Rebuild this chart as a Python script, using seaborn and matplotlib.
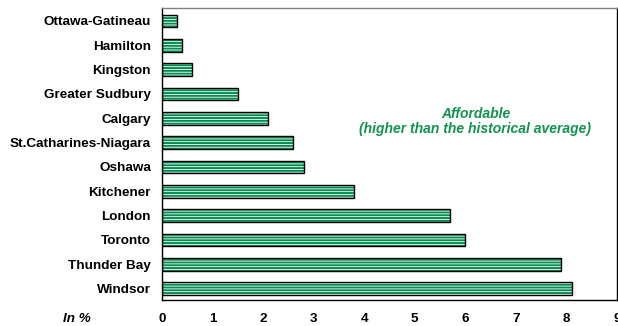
import matplotlib
matplotlib.use("Agg")
import matplotlib.pyplot as plt
import seaborn as sns
import pandas as pd

cities = ["Ottawa-Gatineau", "Hamilton", "Kingston", "Greater Sudbury", "Calgary",
          "St.Catharines-Niagara", "Oshawa", "Kitchener", "London", "Toronto",
          "Thunder Bay", "Windsor"]
values = [0.3, 0.4, 0.6, 1.5, 2.1, 2.6, 2.8, 3.8, 5.7, 6.0, 7.9, 8.1]
x_ticks = list(range(0, 10))

GREEN = "#008c50"
TEXT_GREEN = "#12944f"
FS = 9.7

sns.set_style("white")
plt.rcParams["font.family"] = ["Liberation Sans", "DejaVu Sans"]
plt.rcParams["hatch.linewidth"] = 1.4
plt.rcParams["text.color"] = "black"
plt.rcParams["xtick.color"] = "black"
plt.rcParams["ytick.color"] = "black"

df = pd.DataFrame({"city": cities, "value": values})

fig = plt.figure(figsize=(6.18, 3.26), dpi=100)
ax = fig.add_axes([162 / 618, 1 - 300 / 326, (617 - 162) / 618, (300 - 8) / 326])

# striped fill
sns.barplot(data=df, x="value", y="city", orient="h", ax=ax, color="white",
            edgecolor=GREEN, linewidth=0, width=0.52, errorbar=None,
            hatch="------", saturation=1)
# black outlines on top
sns.barplot(data=df, x="value", y="city", orient="h", ax=ax, fill=False,
            color="black", linewidth=1.0, width=0.52, errorbar=None)

ax.set_xlim(0, 9)
ax.set_ylim(11.47, -0.53)
ax.set_xticks(x_ticks)
ax.set_xticklabels([str(t) for t in x_ticks], fontsize=FS, fontweight="bold")
ax.set_yticks(range(len(cities)))
ax.set_yticklabels(cities, fontsize=FS, fontweight="bold")
ax.tick_params(axis="x", length=0, pad=9)
ax.tick_params(axis="y", length=0, pad=8)
ax.set_xlabel("")
ax.set_ylabel("")

for side in ["left", "bottom", "right"]:
    ax.spines[side].set_color("black")
    ax.spines[side].set_linewidth(1.0)
ax.spines["top"].set_color("#808080")
ax.spines["top"].set_linewidth(1.0)

ax.text(6.2, 4.14, "Affordable\n(higher than the historical average)",
        ha="center", va="center", color=TEXT_GREEN, fontsize=10,
        fontweight="bold", fontstyle="italic", linespacing=1.15)

fig.text(77 / 618, 1 - 319 / 326, "In %", ha="center", va="center",
         fontsize=FS, fontweight="bold", fontstyle="italic")

fig.savefig("out.png", dpi=100)
